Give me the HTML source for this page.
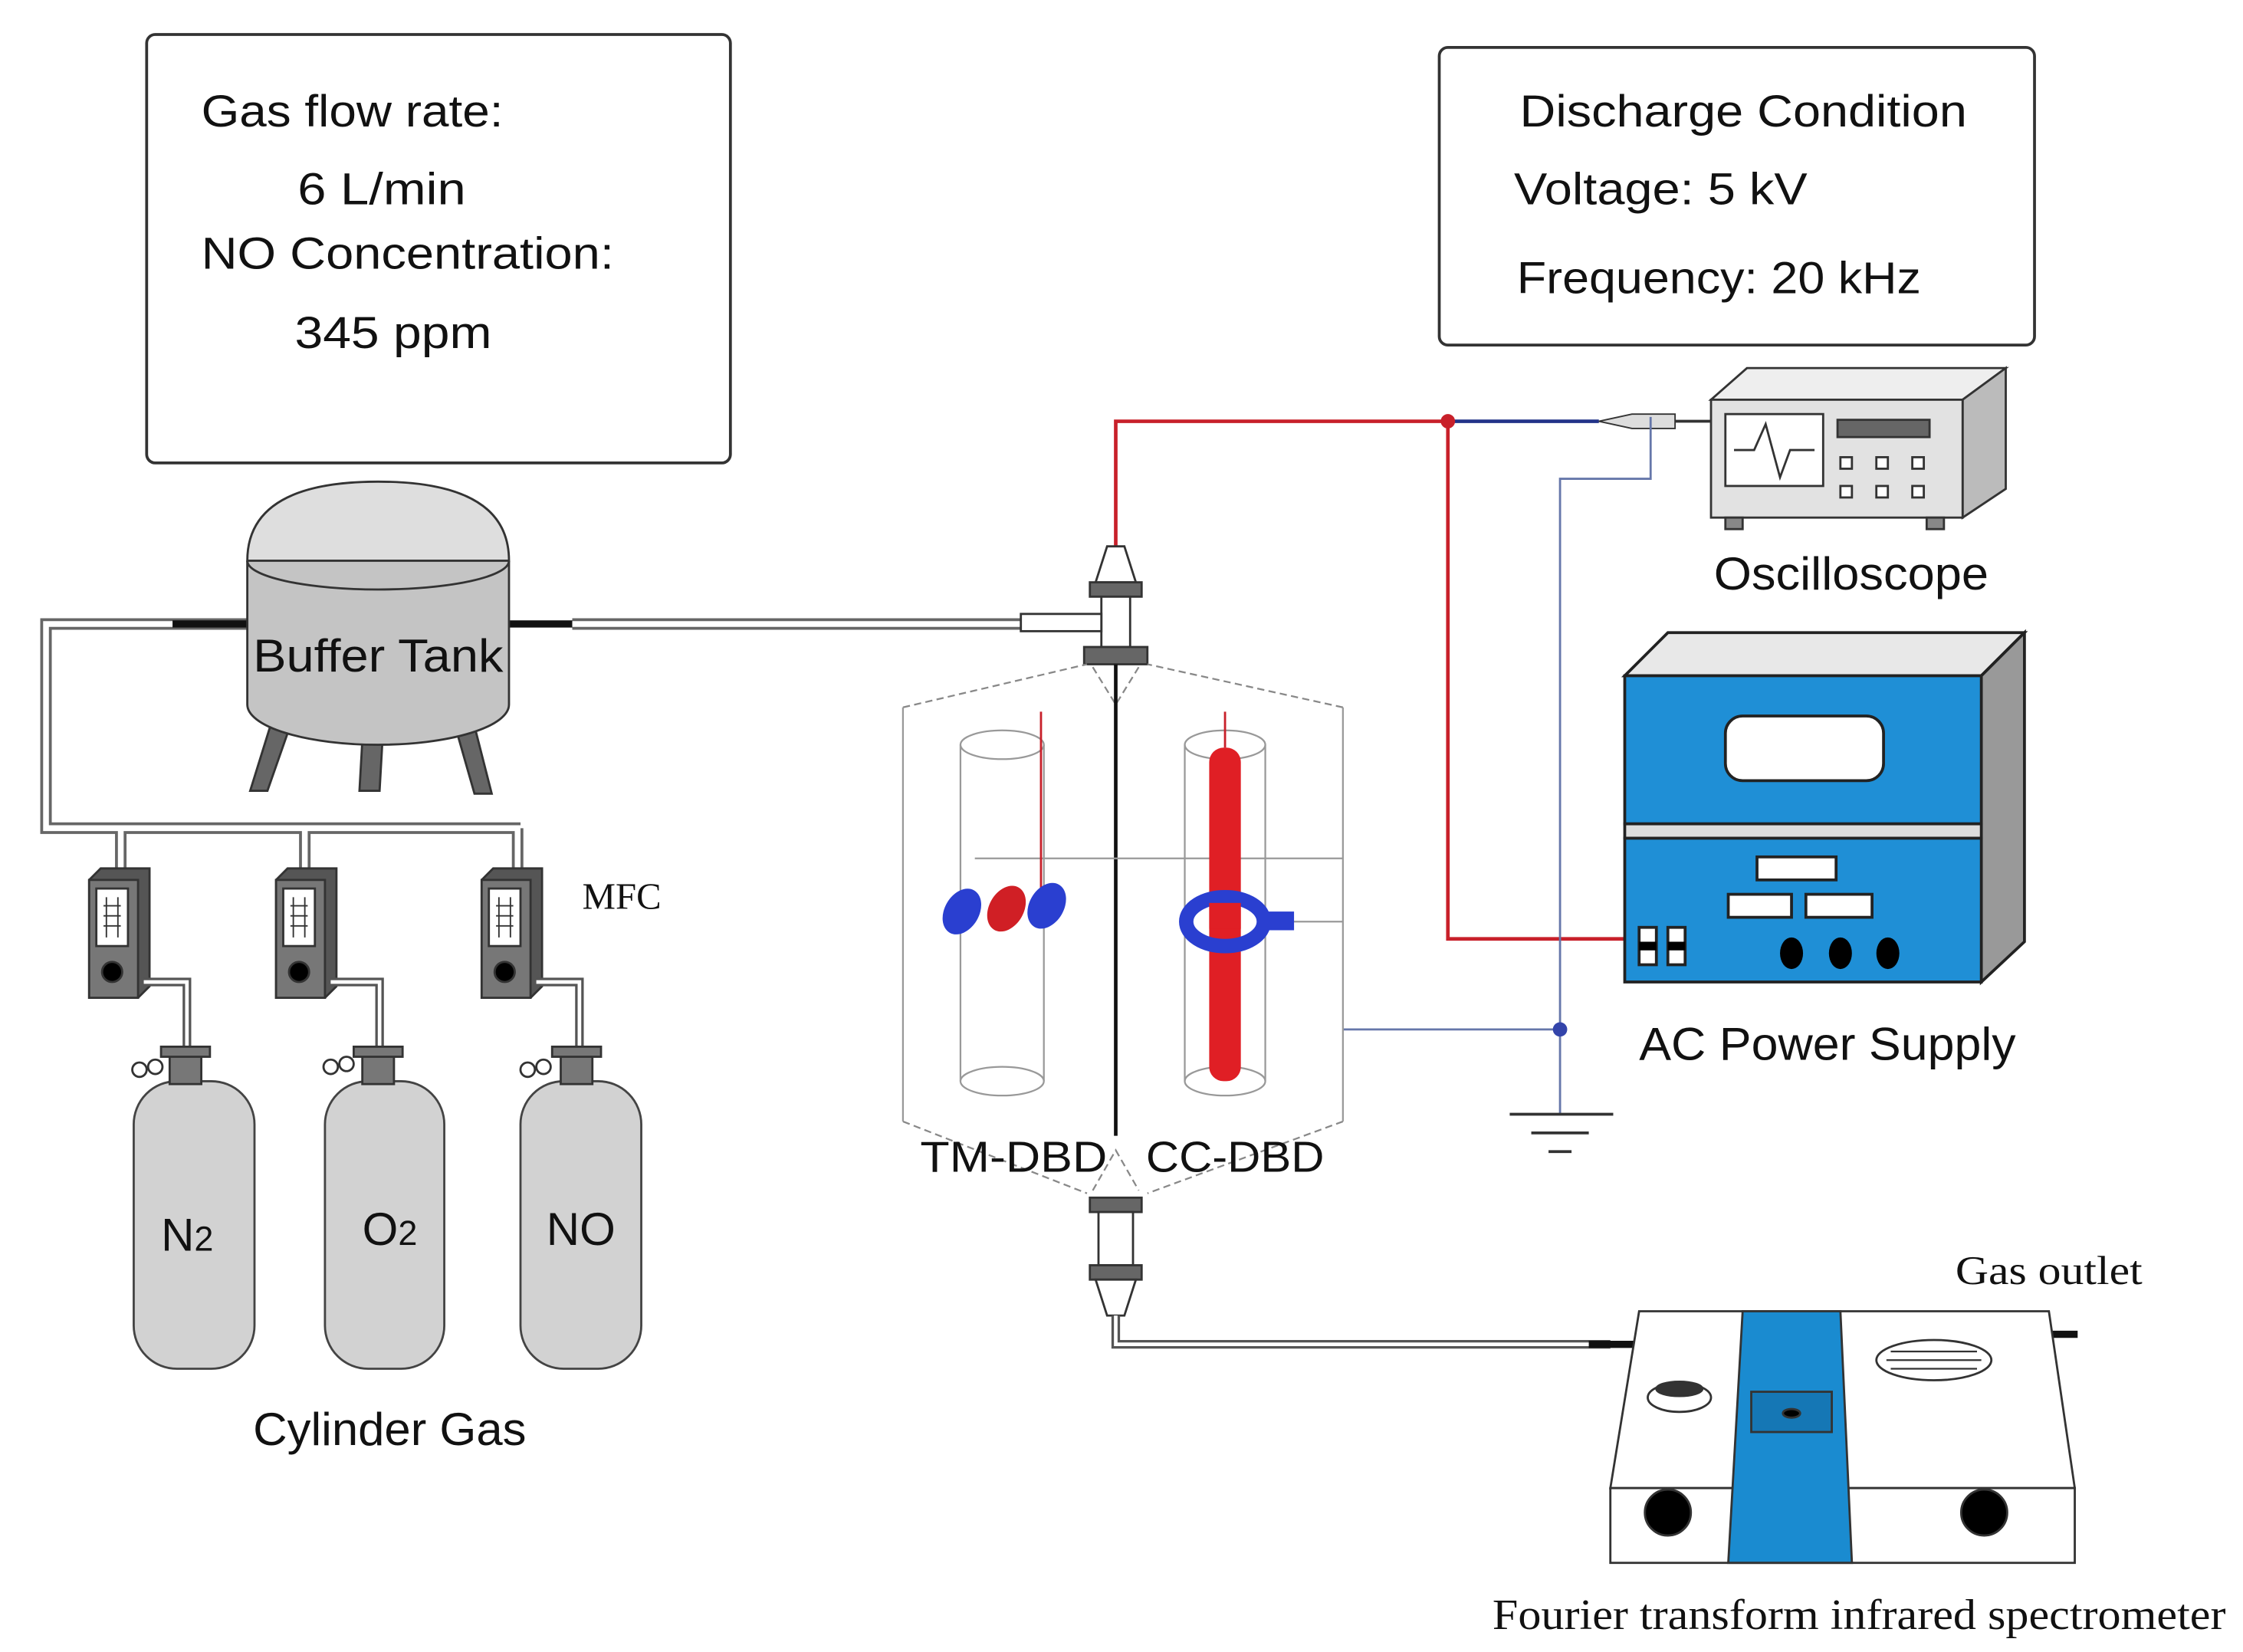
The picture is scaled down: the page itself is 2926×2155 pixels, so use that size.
<!DOCTYPE html>
<html><head><meta charset="utf-8"><style>
html,body{margin:0;padding:0;background:#fff;}
svg{display:block}
.s{font-family:"Liberation Sans","DejaVu Sans",sans-serif;fill:#111}
.r{font-family:"Liberation Serif",serif;fill:#111}
</style></head><body>
<svg width="2926" height="2155" viewBox="0 0 1560 1149" preserveAspectRatio="none" xmlns="http://www.w3.org/2000/svg">
<rect x="102" y="24" width="406" height="298" rx="6" fill="#fff" stroke="#333" stroke-width="2"/>
<text class="s" x="140" y="88" font-size="31" textLength="210" lengthAdjust="spacingAndGlyphs">Gas flow rate:</text>
<text class="s" x="207" y="142" font-size="31" textLength="117" lengthAdjust="spacingAndGlyphs">6 L/min</text>
<text class="s" x="140" y="187" font-size="31" textLength="287" lengthAdjust="spacingAndGlyphs">NO Concentration:</text>
<text class="s" x="205" y="242" font-size="31" textLength="137" lengthAdjust="spacingAndGlyphs">345 ppm</text>
<rect x="1001" y="33" width="414" height="207" rx="6" fill="#fff" stroke="#333" stroke-width="2"/>
<text class="s" x="1057" y="88" font-size="31" textLength="311" lengthAdjust="spacingAndGlyphs">Discharge Condition</text>
<text class="s" x="1053" y="142" font-size="31" textLength="204" lengthAdjust="spacingAndGlyphs">Voltage: 5 kV</text>
<text class="s" x="1055" y="204" font-size="31" textLength="281" lengthAdjust="spacingAndGlyphs">Frequency: 20 kHz</text>

<g fill="none" stroke="#666" stroke-width="8"><path d="M172 434 H32 V576 H362 M84 576 V605 M212 576 V605 M360 576 V605 M398 434 H710"/></g>
<g fill="none" stroke="#fff" stroke-width="4"><path d="M172 434 H32 V576 H362 M84 576 V605 M212 576 V605 M360 576 V605 M398 434 H710"/></g>
<line x1="120" y1="434" x2="175" y2="434" stroke="#111" stroke-width="5"/>
<line x1="352" y1="434" x2="398" y2="434" stroke="#111" stroke-width="5"/>

<g stroke="#333" stroke-width="1.5">
<polygon points="188,505 200,510 186,550 174,550" fill="#666"/>
<polygon points="252,515 266,515 264,550 250,550" fill="#666"/>
<polygon points="318,510 330,505 342,552 330,552" fill="#666"/>
<path d="M172 390 V490 A91 28 0 0 0 354 490 V390" fill="#c4c4c4"/>
<path d="M172 390 Q172 335 263 335 Q354 335 354 390 Z" fill="#dedede"/>
<path d="M172 390 A91 20 0 0 0 354 390" fill="none"/>
</g>
<text class="s" x="176" y="467" font-size="32" textLength="174" lengthAdjust="spacingAndGlyphs">Buffer Tank</text>

<g stroke="#333" stroke-width="1.5">
<g id="mfc"><polygon points="62,612 70,604 104,604 104,686 96,694 62,694" fill="#555"/><rect x="62" y="612" width="34" height="82" fill="#777"/><rect x="67" y="618" width="22" height="40" fill="#fff"/><path d="M74 624 V652 M82 624 V652 M72 630 H84 M72 637 H84 M72 644 H84" stroke-width="1"/><circle cx="78" cy="676" r="7" fill="#000"/></g>
<use href="#mfc" transform="translate(130,0)"/>
<use href="#mfc" transform="translate(273,0)"/>
</g>
<text class="r" x="405" y="632" font-size="26">MFC</text>
<g fill="none" stroke="#555" stroke-width="6"><path d="M100 683 H130 V735 M230 683 H264 V735 M373 683 H403 V735"/></g>
<g fill="none" stroke="#fff" stroke-width="2.5"><path d="M100 683 H130 V735 M230 683 H264 V735 M373 683 H403 V735"/></g>

<g stroke="#444" stroke-width="1.5" fill="#d2d2d2">
<rect x="93" y="752" width="84" height="200" rx="30"/>
<rect x="226" y="752" width="83" height="200" rx="30"/>
<rect x="362" y="752" width="84" height="200" rx="30"/>
</g>
<g stroke="#333" stroke-width="1.5" fill="#777">
<rect x="118" y="732" width="22" height="22"/><rect x="112" y="728" width="34" height="7"/>
<rect x="252" y="732" width="22" height="22"/><rect x="246" y="728" width="34" height="7"/>
<rect x="390" y="732" width="22" height="22"/><rect x="384" y="728" width="34" height="7"/>
<g fill="#fff"><circle cx="97" cy="744" r="5"/><circle cx="108" cy="742" r="5"/><circle cx="230" cy="742" r="5"/><circle cx="241" cy="740" r="5"/><circle cx="367" cy="744" r="5"/><circle cx="378" cy="742" r="5"/></g>
</g>
<text class="s" x="112" y="870" font-size="32">N<tspan font-size="24">2</tspan></text>
<text class="s" x="252" y="866" font-size="32">O<tspan font-size="24">2</tspan></text>
<text class="s" x="380" y="866" font-size="32">NO</text>
<text class="s" x="176" y="1005" font-size="32" textLength="190" lengthAdjust="spacingAndGlyphs">Cylinder Gas</text>

<path d="M776 420 V293 H1007 V653 H1130" fill="none" stroke="#c8202a" stroke-width="2.5"/>
<line x1="1007" y1="293" x2="1112" y2="293" stroke="#223388" stroke-width="2.5"/>
<circle cx="1007" cy="293" r="5" fill="#c8202a"/>
<path d="M1112 293 L1135 288 H1165 V298 H1135 Z" fill="#ddd" stroke="#333"/>
<line x1="1165" y1="293" x2="1190" y2="293" stroke="#333" stroke-width="2"/>
<path d="M1148 290 V333 H1085 V775 M934 716 H1085" fill="none" stroke="#6677aa" stroke-width="1.5"/>
<circle cx="1085" cy="716" r="5" fill="#3344aa"/>
<g stroke="#333" stroke-width="2"><line x1="1050" y1="775" x2="1122" y2="775"/><line x1="1065" y1="788" x2="1105" y2="788"/><line x1="1077" y1="801" x2="1093" y2="801"/></g>

<g stroke="#333" stroke-width="1.5">
<polygon points="770,380 782,380 790,405 762,405" fill="#fff"/>
<rect x="758" y="405" width="36" height="10" fill="#666"/>
<rect x="766" y="415" width="20" height="35" fill="#fff"/>
<rect x="710" y="427" width="56" height="12" fill="#fff"/>
<rect x="754" y="450" width="44" height="12" fill="#666"/>
</g>
<g fill="none" stroke="#888" stroke-width="1.2" stroke-dasharray="5,3">
<path d="M628 492 L756 462 M934 492 L798 462 M760 464 L776 490 L792 464"/>
<path d="M628 780 L756 830 M934 780 L798 830 M760 828 L776 800 L792 828"/>
</g>
<path d="M628 492 V780 M934 492 V780" fill="none" stroke="#999" stroke-width="1.2"/>
<line x1="776" y1="462" x2="776" y2="790" stroke="#111" stroke-width="2.5"/>
<g fill="none" stroke="#999" stroke-width="1.2">
<ellipse cx="697" cy="518" rx="29" ry="10"/><path d="M668 518 V752 M726 518 V752"/><ellipse cx="697" cy="752" rx="29" ry="10"/>
<ellipse cx="852" cy="518" rx="28" ry="10"/><path d="M824 518 V752 M880 518 V752"/><ellipse cx="852" cy="752" rx="28" ry="10"/>
<path d="M678 597 H934 M880 641 H934"/>
</g>
<line x1="724" y1="495" x2="724" y2="620" stroke="#c8202a" stroke-width="1.5"/>
<rect x="841" y="520" width="22" height="232" rx="10" fill="#e01f25"/>
<line x1="852" y1="495" x2="852" y2="520" stroke="#c8202a" stroke-width="1.5"/>
<g fill="#2a3fd0"><ellipse cx="669" cy="634" rx="12" ry="17" transform="rotate(30 669 634)"/><ellipse cx="728" cy="630" rx="12" ry="17" transform="rotate(30 728 630)"/></g>
<ellipse cx="700" cy="632" rx="12" ry="17" transform="rotate(30 700 632)" fill="#d01f25"/>
<ellipse cx="852" cy="641" rx="27" ry="17" fill="none" stroke="#2a3fd0" stroke-width="10"/>
<rect x="880" y="634" width="20" height="13" fill="#2a3fd0"/>
<rect x="841" y="628" width="22" height="18" fill="#e01f25"/>
<text class="s" x="640" y="815" font-size="30" textLength="130" lengthAdjust="spacingAndGlyphs">TM-DBD</text>
<text class="s" x="797" y="815" font-size="30" textLength="124" lengthAdjust="spacingAndGlyphs">CC-DBD</text>

<g stroke="#333" stroke-width="1.5">
<rect x="758" y="833" width="36" height="10" fill="#666"/>
<rect x="764" y="843" width="24" height="37" fill="#fff"/>
<rect x="758" y="880" width="36" height="10" fill="#666"/>
<polygon points="762,890 790,890 782,915 770,915" fill="#fff"/>
</g>
<path d="M776 915 V935 H1120" fill="none" stroke="#555" stroke-width="6"/>
<path d="M776 915 V935 H1110" fill="none" stroke="#fff" stroke-width="2.5"/>
<line x1="1105" y1="935" x2="1145" y2="935" stroke="#111" stroke-width="5"/>
<line x1="1420" y1="928" x2="1445" y2="928" stroke="#111" stroke-width="5"/>
<text class="r" x="1360" y="893" font-size="28" textLength="130" lengthAdjust="spacingAndGlyphs">Gas outlet</text>

<g stroke="#333" stroke-width="1.5">
<polygon points="1140,912 1425,912 1443,1035 1120,1035" fill="#fff"/>
<rect x="1120" y="1035" width="323" height="52" fill="#fff"/>
<polygon points="1212,912 1280,912 1288,1087 1202,1087" fill="#1a8bd0"/>
<rect x="1218" y="968" width="56" height="28" fill="#1577b5"/>
<ellipse cx="1246" cy="983" rx="6" ry="3" fill="#000"/>
<ellipse cx="1168" cy="972" rx="22" ry="10" fill="#fff"/><ellipse cx="1168" cy="966" rx="16" ry="5" fill="#333"/>
<ellipse cx="1345" cy="946" rx="40" ry="14" fill="#fff"/>
<circle cx="1160" cy="1052" r="16" fill="#000"/><circle cx="1380" cy="1052" r="16" fill="#000"/>
</g>
<path d="M1315 940 H1375 M1312 946 H1378 M1315 952 H1375" stroke="#333" stroke-width="1.2"/>
<text class="r" x="1038" y="1133" font-size="30" textLength="510" lengthAdjust="spacingAndGlyphs">Fourier transform infrared spectrometer</text>

<g stroke="#333" stroke-width="1.5">
<polygon points="1190,278 1215,256 1395,256 1365,278" fill="#eee"/>
<polygon points="1365,278 1395,256 1395,340 1365,360" fill="#bbb"/>
<rect x="1190" y="278" width="175" height="82" fill="#e2e2e2"/>
<rect x="1200" y="288" width="68" height="50" fill="#fff"/>
<rect x="1278" y="292" width="64" height="12" fill="#666"/>
<rect x="1280" y="318" width="8" height="8" fill="#fff"/><rect x="1305" y="318" width="8" height="8" fill="#fff"/><rect x="1330" y="318" width="8" height="8" fill="#fff"/>
<rect x="1280" y="338" width="8" height="8" fill="#fff"/><rect x="1305" y="338" width="8" height="8" fill="#fff"/><rect x="1330" y="338" width="8" height="8" fill="#fff"/>
<rect x="1200" y="360" width="12" height="8" fill="#888"/><rect x="1340" y="360" width="12" height="8" fill="#888"/>
</g>
<path d="M1206 313 H1220 L1228 295 L1238 332 L1245 313 H1262" fill="none" stroke="#333" stroke-width="1.5"/>
<text class="s" x="1192" y="410" font-size="32" textLength="191" lengthAdjust="spacingAndGlyphs">Oscilloscope</text>

<g stroke="#222" stroke-width="2">
<polygon points="1130,470 1160,440 1408,440 1378,470" fill="#e8e8e8"/>
<polygon points="1378,470 1408,440 1408,655 1378,683" fill="#999"/>
<rect x="1130" y="470" width="248" height="103" fill="#1f8fd6"/>
<rect x="1130" y="573" width="248" height="10" fill="#ddd"/>
<rect x="1130" y="583" width="248" height="100" fill="#1f8fd6"/>
<rect x="1200" y="498" width="110" height="45" rx="12" fill="#fff"/>
<rect x="1222" y="596" width="55" height="16" fill="#fff"/>
<rect x="1202" y="622" width="44" height="16" fill="#fff"/><rect x="1256" y="622" width="46" height="16" fill="#fff"/>
<rect x="1140" y="645" width="12" height="26" fill="#fff"/><rect x="1160" y="645" width="12" height="26" fill="#fff"/>
</g>
<g fill="#000"><rect x="1140" y="655" width="12" height="6"/><rect x="1160" y="655" width="12" height="6"/>
<ellipse cx="1246" cy="663" rx="8" ry="11"/><ellipse cx="1280" cy="663" rx="8" ry="11"/><ellipse cx="1313" cy="663" rx="8" ry="11"/></g>
<text class="s" x="1140" y="737" font-size="32" textLength="262" lengthAdjust="spacingAndGlyphs">AC Power Supply</text>
</svg>
</body></html>
